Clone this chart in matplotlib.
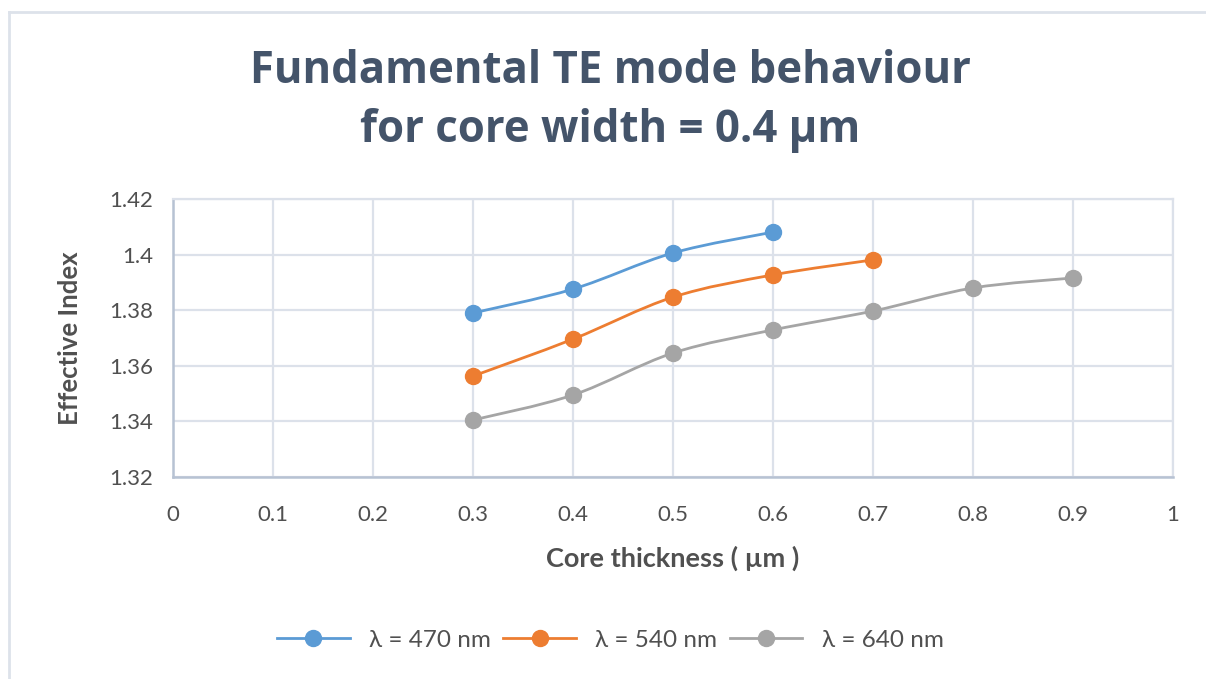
import numpy as np
import matplotlib
matplotlib.use("Agg")
import matplotlib.pyplot as plt
from matplotlib.path import Path
from matplotlib.patches import PathPatch
from matplotlib.lines import Line2D

# ---- data ----
x_470 = [0.3, 0.4, 0.5, 0.6]
y_470 = [1.379, 1.3876, 1.4006, 1.4081]
x_540 = [0.3, 0.4, 0.5, 0.6, 0.7]
y_540 = [1.3563, 1.3696, 1.3847, 1.3927, 1.3981]
x_640 = [0.3, 0.4, 0.5, 0.6, 0.7, 0.8, 0.9]
y_640 = [1.3405, 1.3495, 1.3646, 1.3729, 1.3797, 1.388, 1.3916]
labels = ["λ = 470 nm", "λ = 540 nm", "λ = 640 nm"]
colors = ["#5B9BD5", "#ED7D31", "#A5A5A5"]
xticks = [0, 0.1, 0.2, 0.3, 0.4, 0.5, 0.6, 0.7, 0.8, 0.9, 1]
xticklabels = ["0", "0.1", "0.2", "0.3", "0.4", "0.5", "0.6", "0.7", "0.8", "0.9", "1"]
yticks = [1.32, 1.34, 1.36, 1.38, 1.40, 1.42]
yticklabels = ["1.32", "1.34", "1.36", "1.38", "1.4", "1.42"]

plt.rcParams['font.family'] = ['Lato', 'DejaVu Sans']

fig = plt.figure(figsize=(12.06, 6.79), dpi=100)
ax = fig.add_axes([173/1206, 1-477/679, 1000/1206, 278/679])

def smooth_path(xs, ys, t=1/6):
    xs = np.asarray(xs, float); ys = np.asarray(ys, float)
    n = len(xs)
    verts = [(xs[0], ys[0])]
    codes = [Path.MOVETO]
    for i in range(n - 1):
        p0 = (xs[max(i-1, 0)], ys[max(i-1, 0)])
        p1 = (xs[i], ys[i])
        p2 = (xs[i+1], ys[i+1])
        p3 = (xs[min(i+2, n-1)], ys[min(i+2, n-1)])
        c1 = (p1[0] + (p2[0]-p0[0])*t, p1[1] + (p2[1]-p0[1])*t)
        c2 = (p2[0] - (p3[0]-p1[0])*t, p2[1] - (p3[1]-p1[1])*t)
        verts += [c1, c2, p2]
        codes += [Path.CURVE4]*3
    return Path(verts, codes)

handles = []
for xs, ys, c, lab in zip([x_470, x_540, x_640], [y_470, y_540, y_640], colors, labels):
    patch = PathPatch(smooth_path(xs, ys), facecolor='none', edgecolor=c, lw=2.0, zorder=3)
    ax.add_patch(patch)
    ax.plot(xs, ys, linestyle='none', marker='o', markersize=11.5, color=c, zorder=4)
    handles.append(Line2D([], [], color=c, lw=2.0, marker='o', markersize=11.5))

ax.set_xlim(0, 1)
ax.set_ylim(1.32, 1.42)
ax.set_xticks(xticks)
ax.set_xticklabels(xticklabels)
ax.set_yticks(yticks)
ax.set_yticklabels(yticklabels)
ax.grid(True, color='#DCE1EA', lw=1.6)
ax.set_axisbelow(True)
for s in ['top', 'right']:
    ax.spines[s].set_color('#DCE1EA')
    ax.spines[s].set_linewidth(1.6)
for s in ['left', 'bottom']:
    ax.spines[s].set_color('#B7C2D3')
    ax.spines[s].set_linewidth(1.8)
ax.tick_params(length=0, labelsize=16, colors='#505050')
ax.tick_params(axis='x', pad=20)
ax.tick_params(axis='y', pad=14)

ax.set_xlabel("Core thickness ( µm )", fontsize=19.5, fontweight='bold', color='#505050', labelpad=15)
ax.set_ylabel("Effective Index", fontsize=18.5, fontweight='bold', color='#505050', labelpad=20)

fig.text(0.506, 1-101/679, "Fundamental TE mode behaviour\nfor core width = 0.4 µm",
         ha='center', va='center', fontsize=31.5, fontweight='bold', color='#44546A',
         linespacing=1.4, family=['Open Sans', 'DejaVu Sans'])

fig.legend(handles, labels, loc='center', bbox_to_anchor=(0.506, 1-640/679), ncol=3,
           frameon=False, fontsize=17.5, handlelength=3.0, columnspacing=0.5, handletextpad=0.8,
           labelcolor='#505050')

# chart border
fig.add_artist(Line2D([9/1206, 1], [1-12/679, 1-12/679], transform=fig.transFigure, color='#DDE2EA', lw=2))
fig.add_artist(Line2D([9/1206, 9/1206], [0, 1-12/679], transform=fig.transFigure, color='#DDE2EA', lw=2))

fig.savefig("out.png", dpi=100, facecolor='white')
